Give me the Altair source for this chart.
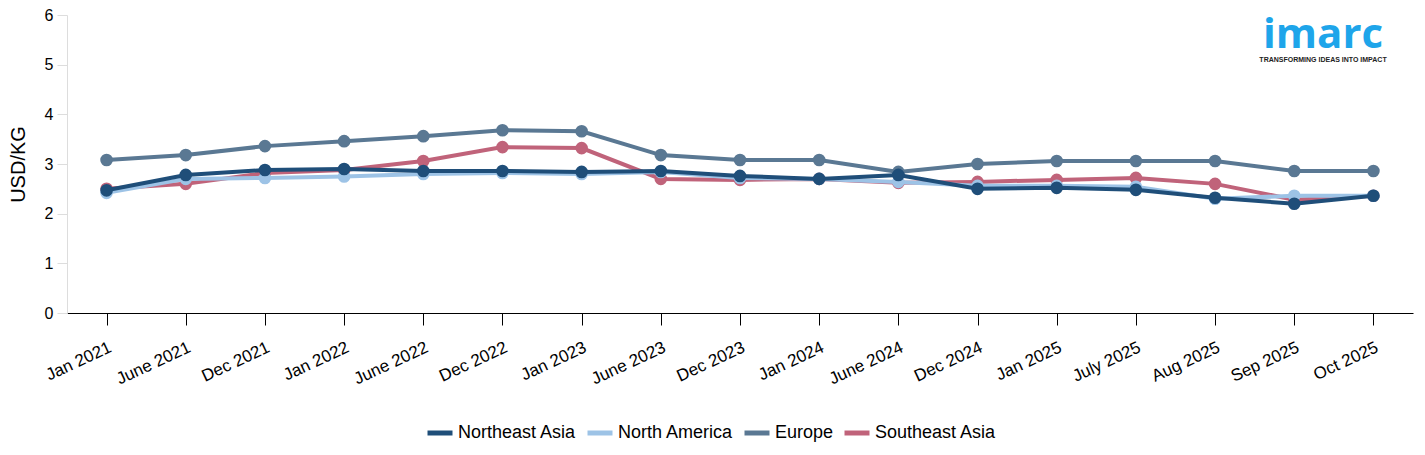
import altair as alt
import pandas as pd

periods = ["Jan 2021", "June 2021", "Dec 2021", "Jan 2022", "June 2022", "Dec 2022",
           "Jan 2023", "June 2023", "Dec 2023", "Jan 2024", "June 2024", "Dec 2024",
           "Jan 2025", "July 2025", "Aug 2025", "Sep 2025", "Oct 2025"]

northeast_asia = [2.47, 2.78, 2.88, 2.90, 2.86, 2.86, 2.84, 2.86, 2.76, 2.70, 2.78, 2.50,
                  2.52, 2.48, 2.32, 2.20, 2.36]
north_america = [2.42, 2.70, 2.72, 2.75, 2.80, 2.82, 2.80, 2.84, 2.72, 2.70, 2.64, 2.56,
                 2.56, 2.54, 2.30, 2.36, 2.36]
europe = [3.08, 3.18, 3.36, 3.46, 3.56, 3.68, 3.66, 3.18, 3.08, 3.08, 2.84, 3.00,
          3.06, 3.06, 3.06, 2.86, 2.86]
southeast_asia = [2.50, 2.60, 2.82, 2.88, 3.06, 3.34, 3.32, 2.70, 2.68, 2.70, 2.62, 2.64,
                  2.68, 2.72, 2.60, 2.28, 2.36]

series_names = ["Northeast Asia", "North America", "Europe", "Southeast Asia"]
series_colors = ["#1f4e79", "#9dc3e6", "#5a7893", "#c0637a"]
series_values = [northeast_asia, north_america, europe, southeast_asia]

rows = []
for name, vals in zip(series_names, series_values):
    for p, v in zip(periods, vals):
        rows.append({"Period": p, "Region": name, "Value": v})
df = pd.DataFrame(rows)

FONT = "Liberation Sans"

x_enc = alt.X("Period:N", sort=periods,
              scale=alt.Scale(type="point", padding=0.5),
              axis=alt.Axis(title=None, labelAngle=335, labelAlign="right",
                            labelBaseline="top", labelFontSize=17, labelColor="#000",
                            labelFont=FONT, domainColor="#000", tickColor="#000",
                            tickSize=12, labelPadding=14, grid=False))
y_enc = alt.Y("Value:Q", scale=alt.Scale(domain=[0, 6]),
              axis=alt.Axis(title="USD/KG", titleFontSize=20, titleFontWeight="normal",
                            titleFont=FONT, titleColor="#000", titlePadding=16,
                            values=[0, 1, 2, 3, 4, 5, 6], labelFontSize=16,
                            labelColor="#000", labelFont=FONT, domainColor="#dddddd",
                            tickColor="#dddddd", tickSize=10, grid=False, labelPadding=4))
color_enc = alt.Color("Region:N",
                      scale=alt.Scale(domain=series_names, range=series_colors),
                      legend=alt.Legend(title=None, orient="none", direction="horizontal",
                                        legendX=358, legendY=403, symbolType="stroke",
                                        symbolStrokeWidth=5, symbolSize=625,
                                        labelFontSize=18, labelFont=FONT, labelOffset=3,
                                        labelColor="#000", columnPadding=0))

layers = []
draw_order = ["Southeast Asia", "Europe", "North America", "Northeast Asia"]
for name in draw_order:
    base = alt.Chart(df).transform_filter(alt.datum.Region == name)
    layers.append(base.mark_line(strokeWidth=4).encode(x=x_enc, y=y_enc, color=color_enc))
    layers.append(base.mark_circle(size=160, opacity=1).encode(x=x_enc, y=y_enc, color=color_enc))

logo = alt.Chart(pd.DataFrame({"t": ["imarc"]})).mark_text(
    font="Open Sans", fontSize=42, fontWeight="bold", color="#1ea5ea", align="center",
    baseline="alphabetic").encode(text="t:N", x=alt.value(1256), y=alt.value(33))
tag = alt.Chart(pd.DataFrame({"t": ["TRANSFORMING IDEAS INTO IMPACT"]})).mark_text(
    font=FONT, fontSize=7, fontWeight="bold", color="#222", align="center",
    baseline="alphabetic").encode(text="t:N", x=alt.value(1256), y=alt.value(47))

chart = alt.layer(*layers, logo, tag).properties(
    width=1346, height=298,
    autosize=alt.AutoSizeParams(type="none"),
    padding={"left": 59, "top": 7, "right": 4, "bottom": 132},
).configure(background="white").configure_view(stroke=None)

chart.save("out.html", embed_options={"renderer": "svg", "actions": False})
